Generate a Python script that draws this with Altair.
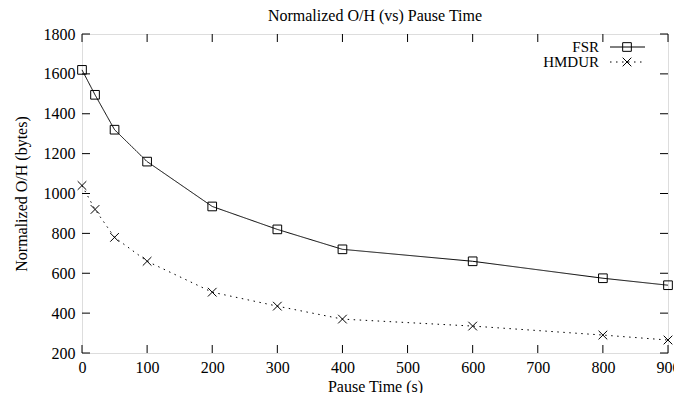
import altair as alt
import pandas as pd

# ---- data ----
pause_time = [0, 20, 50, 100, 200, 300, 400, 600, 800, 900]
fsr = [1620, 1495, 1320, 1160, 935, 820, 720, 660, 575, 540]
hmdur = [1040, 920, 780, 660, 505, 435, 370, 335, 290, 265]
series_names = ["FSR", "HMDUR"]
x_ticks = [0, 100, 200, 300, 400, 500, 600, 700, 800, 900]
y_ticks = [200, 400, 600, 800, 1000, 1200, 1400, 1600, 1800]
chart_title = ["Normalized O/H (vs) Pause Time"]

W, H = 586, 319
FONT = "Liberation Serif"
FS = 16
XMARK = "M-1,-1L1,1M-1,1L1,-1"

rows = []
for t, v in zip(pause_time, fsr):
    rows.append({"time": t, "value": v, "series": "FSR"})
for t, v in zip(pause_time, hmdur):
    rows.append({"time": t, "value": v, "series": "HMDUR"})
df = pd.DataFrame(rows)

xscale = alt.Scale(domain=[0, 900], nice=False, zero=False)
yscale = alt.Scale(domain=[200, 1800], nice=False, zero=False)

x_axis = alt.Axis(values=x_ticks, format="d", ticks=False, tickSize=0, domain=False, grid=False,
                  labelFont=FONT, labelFontSize=FS, labelColor="black", labelPadding=6,
                  labelFlush=False, labelOverlap=False, labelBound=False,
                  title="Pause Time (s)", titleFont=FONT, titleFontSize=FS,
                  titleFontWeight="normal", titleColor="black",
                  titleX=W / 2, titleY=33, titleBaseline="middle", titleAlign="center")
y_axis = alt.Axis(values=y_ticks, format="d", ticks=False, tickSize=0, domain=False, grid=False,
                  labelFont=FONT, labelFontSize=FS, labelColor="black", labelPadding=7,
                  labelOverlap=False, labelBound=False, labelFlush=False,
                  title="Normalized O/H (bytes)", titleFont=FONT, titleFontSize=FS,
                  titleFontWeight="normal", titleColor="black",
                  titleX=-61, titleY=H / 2, titleBaseline="middle", titleAlign="center",
                  titleAngle=270)

base = alt.Chart(df)

lines = base.mark_line(color="black", strokeWidth=1, strokeCap="butt").encode(
    x=alt.X("time:Q", scale=xscale, axis=x_axis),
    y=alt.Y("value:Q", scale=yscale, axis=y_axis),
    strokeDash=alt.StrokeDash("series:N", scale=alt.Scale(domain=series_names,
                              range=[[1, 0], [1.5, 4.5]]), legend=None),
    detail="series:N",
)

points = base.mark_point(filled=False, color="black", size=75, strokeWidth=1, opacity=1).encode(
    x=alt.X("time:Q", scale=xscale, axis=x_axis),
    y=alt.Y("value:Q", scale=yscale, axis=y_axis),
    shape=alt.Shape("series:N", scale=alt.Scale(domain=series_names,
                    range=["square", XMARK]), legend=None),
)

xt = pd.DataFrame({"time": x_ticks})
yt = pd.DataFrame({"value": y_ticks})
TL = 8
tick_bottom = alt.Chart(xt).mark_rule(color="black", strokeWidth=1).encode(
    x=alt.X("time:Q", scale=xscale, axis=x_axis), y=alt.value(H), y2=alt.value(H - TL))
tick_top = alt.Chart(xt).mark_rule(color="black", strokeWidth=1).encode(
    x=alt.X("time:Q", scale=xscale, axis=x_axis), y=alt.value(0), y2=alt.value(TL))
tick_left = alt.Chart(yt).mark_rule(color="black", strokeWidth=1).encode(
    y=alt.Y("value:Q", scale=yscale, axis=y_axis), x=alt.value(0), x2=alt.value(TL))
tick_right = alt.Chart(yt).mark_rule(color="black", strokeWidth=1).encode(
    y=alt.Y("value:Q", scale=yscale, axis=y_axis), x=alt.value(W), x2=alt.value(W - TL))

title_layer = alt.Chart(pd.DataFrame({"t": chart_title})).mark_text(
    font=FONT, fontSize=FS, align="center", baseline="alphabetic", color="black").encode(
    text="t:N", x=alt.value(W / 2), y=alt.value(-13))

# ---- legend (gnuplot style: label then sample) ----
leg = pd.DataFrame({"series": series_names})
legend_layers = []
LFS = 15
row_y = {"FSR": 13, "HMDUR": 28}
dash = {"FSR": [1, 0], "HMDUR": [1.5, 4.5]}
mark_shape = {"FSR": "square", "HMDUR": XMARK}
for s in series_names:
    ry = row_y[s]
    src = alt.Chart(leg).transform_filter(alt.datum.series == s)
    legend_layers.append(src.mark_text(font=FONT, fontSize=LFS, align="right",
                                       baseline="middle", color="black").encode(
        text="series:N", x=alt.value(517), y=alt.value(ry)))
    legend_layers.append(src.mark_rule(color="black", strokeWidth=1,
                                       strokeDash=dash[s]).encode(
        x=alt.value(528), x2=alt.value(563), y=alt.value(ry)))
    legend_layers.append(src.mark_point(shape=mark_shape[s], filled=False, color="black",
                                        size=75, strokeWidth=1, opacity=1).encode(
        x=alt.value(545), y=alt.value(ry)))

chart = alt.layer(lines, points, tick_bottom, tick_top, tick_left, tick_right,
                  title_layer, *legend_layers).properties(
    width=W, height=H,
    autosize=alt.AutoSizeParams(type="none"),
    padding={"left": 74, "top": 26, "right": 6, "bottom": 40},
).configure_view(stroke="black", strokeWidth=1).configure(background="white")

chart.save("out.html", embed_options={"renderer": "svg", "actions": False})
